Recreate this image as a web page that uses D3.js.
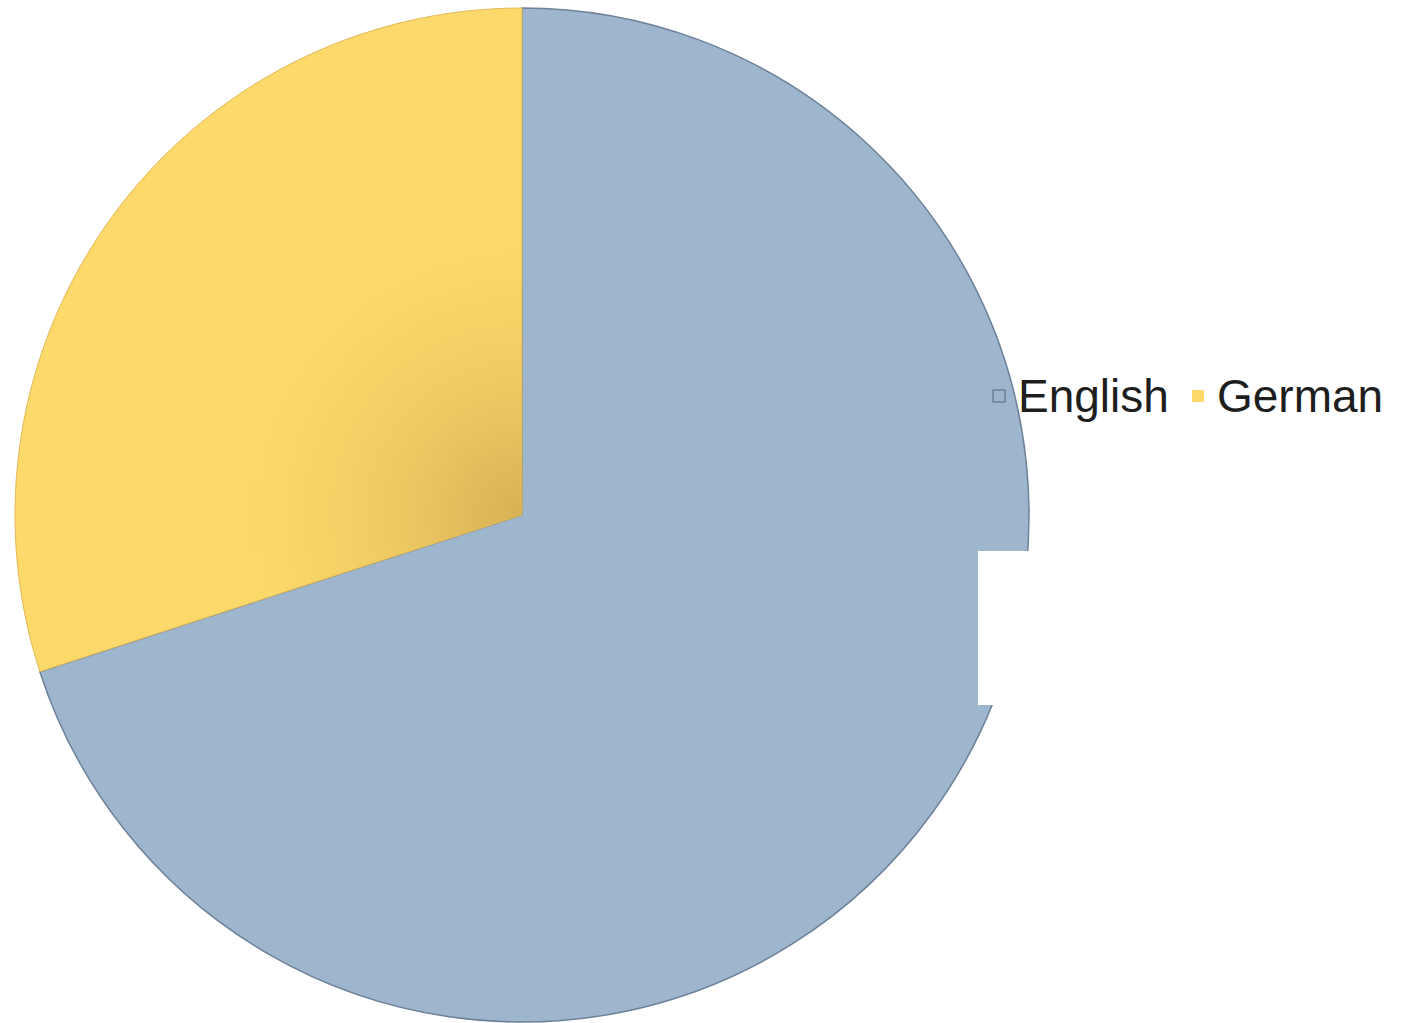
<!DOCTYPE html>
<html><head><meta charset="utf-8">
<script src="https://cdn.jsdelivr.net/npm/d3@7/dist/d3.min.js"></script>
<style>html,body{margin:0;padding:0;background:#fff;}</style>
</head><body>
<svg id="c" width="1404" height="1023"></svg>
<script>
const categories = ["English", "German"];
const values = [70, 30];
const colors = ["#9eb6cd", "#fdd96b"];

const svg = d3.select("#c");
const cx = 522, cy = 515, r = 507;

const defs = svg.append("defs");
// gradient in the pie group's local coordinates (centre at 0,0)
const rg = defs.append("radialGradient").attr("id", "gold")
  .attr("gradientUnits", "userSpaceOnUse")
  .attr("cx", 0).attr("cy", 0).attr("r", r);
rg.append("stop").attr("offset", "0%").attr("stop-color", "#d8b155");
rg.append("stop").attr("offset", "25%").attr("stop-color", "#eec962");
rg.append("stop").attr("offset", "50%").attr("stop-color", "#fbd86a");
rg.append("stop").attr("offset", "100%").attr("stop-color", "#fdd96b");

const pie = d3.pie().sort(null).value(d => d);
const arc = d3.arc().innerRadius(0).outerRadius(r);
const g = svg.append("g").attr("transform", `translate(${cx},${cy})`);
const arcs = pie(values);
g.selectAll("path").data(arcs).join("path")
  .attr("d", arc)
  .attr("fill", (d, i) => i === 1 ? "url(#gold)" : colors[i])
  .attr("stroke", (d, i) => i === 1 ? "#e0b95a" : "#6d8197")
  .attr("stroke-width", (d, i) => i === 1 ? 1 : 1.5)
  .attr("stroke-linejoin", "round");

// white label box artifact
svg.append("rect").attr("x", 978).attr("y", 551).attr("width", 60).attr("height", 154).attr("fill", "#fff");

// legend
const legend = svg.append("g");
const lx = [993, 1192];
categories.forEach((c, i) => {
  legend.append("rect").attr("x", lx[i]).attr("y", 390).attr("width", 12).attr("height", 12)
    .attr("fill", colors[i])
    .attr("stroke", i === 0 ? "#6d8197" : "none").attr("stroke-width", 1.5);
  legend.append("text").attr("x", lx[i] + 25).attr("y", 412)
    .attr("font-family", "Liberation Sans, Arial, sans-serif").attr("font-size", 46)
    .attr("fill", "#1e1e1e").text(c);
});
</script>
</body></html>
